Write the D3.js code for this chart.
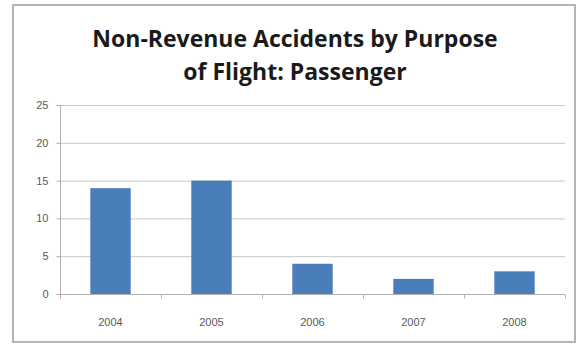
<!DOCTYPE html>
<html>
<head>
<meta charset="utf-8">
<script src="https://cdn.jsdelivr.net/npm/d3@7"></script>
<style>
  html, body { margin: 0; padding: 0; background: #fff; }
  svg { display: block; }
</style>
</head>
<body>
<svg id="chart" width="579" height="345"></svg>
<script>
// chart data
const years = ["2004", "2005", "2006", "2007", "2008"];
const accidents = [14, 15, 4, 2, 3];
const yTicks = [0, 5, 10, 15, 20, 25];
const titleLines = ["Non-Revenue Accidents by Purpose", "of Flight: Passenger"];

const svg = d3.select("#chart");
const plot = { left: 60, right: 565, top: 105, bottom: 294 };

// outer frame
svg.append("rect")
  .attr("x", 13).attr("y", 5)
  .attr("width", 562).attr("height", 337)
  .attr("fill", "#fff")
  .attr("stroke", "#b4b4b4")
  .attr("stroke-width", 2);

// title
svg.append("g").selectAll("text")
  .data(titleLines)
  .enter()
  .append("text")
  .attr("x", 295)
  .attr("y", (d, i) => 47 + i * 33)
  .attr("text-anchor", "middle")
  .attr("font-family", "'Open Sans', 'Liberation Sans', sans-serif")
  .attr("font-weight", "bold")
  .attr("font-size", 23)
  .attr("fill", "#1a1a1a")
  .text(d => d);

const x = d3.scaleBand()
  .domain(years)
  .range([plot.left, plot.right])
  .paddingInner(0.6)
  .paddingOuter(0.3);

const y = d3.scaleLinear()
  .domain([0, 25])
  .range([plot.bottom, plot.top]);

// gridlines
svg.append("g")
  .selectAll("line")
  .data(yTicks.filter(d => d > 0))
  .enter()
  .append("line")
  .attr("x1", plot.left).attr("x2", plot.right)
  .attr("y1", d => y(d) + 0.5).attr("y2", d => y(d) + 0.5)
  .attr("stroke", "#c8c8c8")
  .attr("stroke-width", 1);

// bars
svg.append("g")
  .selectAll("rect")
  .data(accidents)
  .enter()
  .append("rect")
  .attr("x", (d, i) => x(years[i]))
  .attr("y", d => y(d))
  .attr("width", x.bandwidth())
  .attr("height", d => plot.bottom - y(d))
  .attr("fill", "#4a7ebb");

// y axis
const yAxis = svg.append("g")
  .attr("transform", "translate(" + (plot.left + 0.5) + ",0)")
  .call(d3.axisLeft(y).tickValues(yTicks).tickSize(4).tickPadding(8));
yAxis.select(".domain").attr("stroke", "#b0b0b0").attr("d", "M-0," + plot.top + "V" + (plot.bottom + 0.5));
yAxis.selectAll(".tick line").attr("stroke", "#b0b0b0");
yAxis.selectAll("text")
  .attr("font-family", "'Liberation Sans', sans-serif")
  .attr("font-size", 11)
  .attr("fill", "#595959");

// x axis with ticks at band edges
const xAxis = svg.append("g")
  .attr("transform", "translate(0," + (plot.bottom + 0.5) + ")");
xAxis.append("line")
  .attr("x1", plot.left).attr("x2", plot.right)
  .attr("stroke", "#b0b0b0");
xAxis.selectAll(".edge")
  .data([plot.left].concat(years.slice(1).map(d => x(d) - (x.step() - x.bandwidth()) / 2)).concat([plot.right]))
  .enter()
  .append("line")
  .attr("x1", d => Math.round(d) + 0.5).attr("x2", d => Math.round(d) + 0.5)
  .attr("y1", 0).attr("y2", 4)
  .attr("stroke", "#b0b0b0");
xAxis.selectAll("text")
  .data(years)
  .enter()
  .append("text")
  .attr("x", d => x(d) + x.bandwidth() / 2)
  .attr("y", 31)
  .attr("text-anchor", "middle")
  .attr("font-family", "'Liberation Sans', sans-serif")
  .attr("font-size", 11)
  .attr("fill", "#595959")
  .text(d => d);
</script>
</body>
</html>
